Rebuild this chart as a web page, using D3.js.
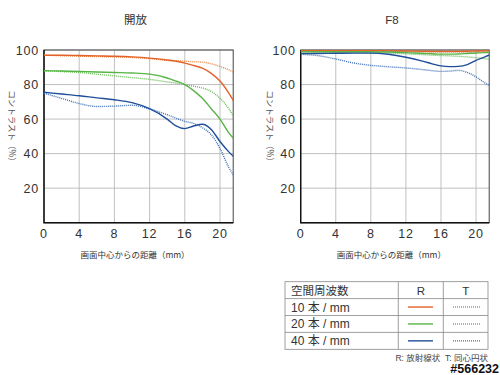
<!DOCTYPE html>
<html>
<head>
<meta charset="utf-8">
<script src="https://cdn.jsdelivr.net/npm/d3@7"></script>
<style>
  body { margin: 0; background: #fff; }
  svg { display: block; }
</style>
</head>
<body>
<svg id="chart" width="500" height="375"></svg>
<script>
// distance from image centre (mm)
const positions = [0, 2, 4, 6, 8, 10, 12, 14, 15, 16, 17, 18, 19, 20, 21, 21.6];

// 開放 (wide open)
const openR10 = [97, 97, 96.8, 96.6, 96.4, 96, 95.3, 94.2, 93.5, 92.4, 91, 89.5, 86.5, 82, 75, 70];
const openT10 = [97, 96.7, 96.4, 96.2, 96, 95.7, 95, 94, 93.8, 93.5, 93.2, 93, 92, 90.5, 88.5, 87];
const openR20 = [88, 87.8, 87.6, 87.3, 87, 86.7, 86, 83.8, 82, 80, 76.5, 72, 66, 60, 52, 48.5];
const openT20 = [88, 87.5, 87, 86, 85, 84, 83, 81.5, 80.8, 80, 79, 78, 76, 72, 66, 61];
const openR40 = [75.5, 74.5, 73.5, 72.3, 71.2, 69.5, 66, 60, 56, 54.5, 56, 57, 54, 47, 41, 38];
const openT40 = [75, 72, 69, 67.3, 67.5, 68, 65.8, 62.5, 60.5, 58.7, 57.5, 55, 51, 43, 32, 27];

// F8
const f8R10 = [99.6, 99.6, 99.6, 99.6, 99.6, 99.5, 99.4, 99.3, 99.2, 99.2, 99.2, 99.2, 99.3, 99.4, 99.5, 99.5];
const f8T10 = [99.3, 99.3, 99.3, 99.2, 99.2, 99.1, 99, 98.8, 98.7, 98.6, 98.6, 98.6, 98.7, 98.8, 99, 99.1];
const f8R20 = [99, 99, 99, 99, 99, 98.8, 98.5, 98, 97.8, 97.6, 97.6, 97.7, 98, 98.3, 98.5, 98.6];
const f8T20 = [99, 98.8, 98.6, 98.5, 98.4, 98.2, 97.8, 97.3, 97, 96.8, 96.6, 96.3, 96, 95.5, 95, 94.5];
const f8R40 = [97.9, 98, 98.1, 98.2, 98.2, 97.5, 95.8, 93.4, 92, 90.8, 90.4, 90.5, 91.5, 94, 96, 97.3];
const f8T40 = [97.5, 96.7, 94.8, 92.5, 91.1, 90.3, 89.6, 88.6, 88, 87.6, 87.8, 88.2, 87, 84.4, 81, 79.3];

const xTicks = [0, 4, 8, 12, 16, 20];
const yTicks = [20, 40, 60, 80, 100];
const freqLabels = ["10 本 / mm", "20 本 / mm", "40 本 / mm"];
const freqColors = { solid: ["#e2622b", "#58b447", "#1f4e9a"], dotted: ["#e98542", "#62bd50", "#3f6fb7"] };

const NUM_FONT = "'Liberation Sans', Arial, sans-serif";
const JP_FONT = "'Noto Sans CJK JP', sans-serif";
const MIX_FONT = "'Liberation Sans', 'Noto Sans CJK JP', sans-serif";

const svg = d3.select("#chart");

function drawPanel(opts) {
  const x = d3.scaleLinear().domain([0, 21.5]).range([opts.left, opts.right]);
  const y = d3.scaleLinear().domain([0, 100]).range([222.7, 50]);
  const g = svg.append("g");

  // grid
  g.selectAll(".vgrid").data(xTicks.slice(1)).enter().append("line")
    .attr("x1", d => x(d)).attr("x2", d => x(d))
    .attr("y1", y(0)).attr("y2", y(100))
    .attr("stroke", "#b0b0b0").attr("stroke-width", 0.8);
  g.selectAll(".hgrid").data(yTicks).enter().append("line")
    .attr("x1", x(0)).attr("x2", x(21.5))
    .attr("y1", d => y(d)).attr("y2", d => y(d))
    .attr("stroke", "#b0b0b0").attr("stroke-width", 0.8);

  // frame
  g.append("rect")
    .attr("x", x(0)).attr("y", y(100))
    .attr("width", x(21.5) - x(0)).attr("height", y(0) - y(100))
    .attr("fill", "none").attr("stroke", "#444").attr("stroke-width", 1);
  g.append("path")
    .attr("d", `M${x(0)},${y(100)}V${y(0)}H${x(21.5)}`)
    .attr("fill", "none").attr("stroke", "#111").attr("stroke-width", 1.4);

  // curves
  const line = d3.line()
    .x((d, i) => x(positions[i]))
    .y(d => y(d))
    .curve(d3.curveMonotoneX);
  const clipId = "clip" + opts.id;
  svg.append("clipPath").attr("id", clipId).append("rect")
    .attr("x", x(0)).attr("y", y(100) - 1)
    .attr("width", x(21.5) - x(0)).attr("height", y(0) - y(100) + 1);
  const lines = g.append("g").attr("clip-path", `url(#${clipId})`);
  opts.series.forEach((s, i) => {
    lines.append("path").datum(s.t)
      .attr("d", line).attr("fill", "none")
      .attr("stroke", freqColors.dotted[i]).attr("stroke-width", 1.4)
      .attr("stroke-dasharray", "1,1");
    lines.append("path").datum(s.r)
      .attr("d", line).attr("fill", "none")
      .attr("stroke", freqColors.solid[i]).attr("stroke-width", 1.4);
  });

  // tick labels
  g.selectAll(".ylab").data(yTicks).enter().append("text")
    .attr("x", x(0) - 5).attr("y", d => y(d) + 4.5)
    .attr("text-anchor", "end")
    .attr("font-family", NUM_FONT).attr("font-size", 12.5)
    .attr("letter-spacing", 0.8).attr("fill", "#333")
    .text(d => d);
  g.selectAll(".xlab").data(xTicks).enter().append("text")
    .attr("x", d => x(d)).attr("y", 238)
    .attr("text-anchor", "middle")
    .attr("font-family", NUM_FONT).attr("font-size", 12.5)
    .attr("letter-spacing", 0.8).attr("fill", "#333")
    .text(d => d);

  // titles
  g.append("text")
    .attr("x", (x(0) + x(21.5)) / 2 - 3).attr("y", 24)
    .attr("text-anchor", "middle")
    .attr("font-family", opts.title === "F8" ? NUM_FONT : JP_FONT)
    .attr("font-size", 11.5).attr("fill", "#333")
    .text(opts.title);
  g.append("text")
    .attr("x", (x(0) + x(20)) / 2 + 3).attr("y", 258)
    .attr("text-anchor", "middle")
    .attr("font-family", JP_FONT).attr("font-size", 8.5).attr("fill", "#333")
    .text("画面中心からの距離（mm）");
  g.append("text")
    .attr("transform", `translate(${opts.ylabX},128) rotate(90)`)
    .attr("text-anchor", "middle")
    .attr("font-family", JP_FONT).attr("font-size", 8.5).attr("fill", "#555")
    .text("コントラスト（%）");
}

drawPanel({
  id: "open", title: "開放", left: 44, right: 233.2, ylabX: 9,
  series: [{ r: openR10, t: openT10 }, { r: openR20, t: openT20 }, { r: openR40, t: openT40 }]
});
drawPanel({
  id: "f8", title: "F8", left: 300.7, right: 489.2, ylabX: 267,
  series: [{ r: f8R10, t: f8T10 }, { r: f8R20, t: f8T20 }, { r: f8R40, t: f8T40 }]
});

// legend table
const table = svg.append("g");
const colX = [285, 398.3, 443.3, 488];
const rowY = d3.scaleBand().domain(d3.range(4)).range([281.7, 349.3]);
table.append("rect")
  .attr("x", colX[0]).attr("y", rowY(0))
  .attr("width", colX[3] - colX[0]).attr("height", rowY.step() * 4)
  .attr("fill", "none").attr("stroke", "#888").attr("stroke-width", 0.8);
table.selectAll(".rowline").data([1, 2, 3]).enter().append("line")
  .attr("x1", colX[0]).attr("x2", colX[3])
  .attr("y1", d => rowY(d)).attr("y2", d => rowY(d))
  .attr("stroke", "#888").attr("stroke-width", 0.8);
table.selectAll(".colline").data([1, 2]).enter().append("line")
  .attr("x1", d => colX[d]).attr("x2", d => colX[d])
  .attr("y1", rowY(0)).attr("y2", rowY(3) + rowY.step())
  .attr("stroke", "#888").attr("stroke-width", 0.8);

const rowMid = i => rowY(i) + rowY.step() / 2;
table.append("text")
  .attr("x", 291).attr("y", rowMid(0) + 4.5)
  .attr("font-family", JP_FONT).attr("font-size", 11.5).attr("fill", "#333")
  .text("空間周波数");
["R", "T"].forEach((t, j) => {
  table.append("text")
    .attr("x", (colX[j + 1] + colX[j + 2]) / 2).attr("y", rowMid(0) + 4.5)
    .attr("text-anchor", "middle")
    .attr("font-family", NUM_FONT).attr("font-size", 11.5).attr("fill", "#333")
    .text(t);
});
freqLabels.forEach((lab, i) => {
  table.append("text")
    .attr("x", 291).attr("y", rowMid(i + 1) + 4.5)
    .attr("font-family", MIX_FONT).attr("font-size", 12).attr("fill", "#333")
    .attr("xml:space", "preserve")
    .text(lab.replace(/ /g, "\u00a0"));
  table.append("line")
    .attr("x1", 408).attr("x2", 433)
    .attr("y1", rowMid(i + 1)).attr("y2", rowMid(i + 1))
    .attr("stroke", freqColors.solid[i]).attr("stroke-width", 1.4);
  table.append("line")
    .attr("x1", 453).attr("x2", 480)
    .attr("y1", rowMid(i + 1)).attr("y2", rowMid(i + 1))
    .attr("stroke", freqColors.dotted[i]).attr("stroke-width", 1.4)
    .attr("stroke-dasharray", "1,1");
});

svg.append("text")
  .attr("x", 488).attr("y", 361)
  .attr("text-anchor", "end")
  .attr("font-family", MIX_FONT).attr("font-size", 8.5).attr("fill", "#444")
  .text("R: 放射線状\u00a0\u00a0T: 同心円状");

// id stamp
svg.append("text")
  .attr("x", 499).attr("y", 373)
  .attr("text-anchor", "end")
  .attr("font-family", NUM_FONT).attr("font-size", 12.5).attr("font-weight", "bold")
  .attr("fill", "#111").attr("stroke", "#fff").attr("stroke-width", 2.5)
  .attr("paint-order", "stroke")
  .text("#566232");
</script>
</body>
</html>
